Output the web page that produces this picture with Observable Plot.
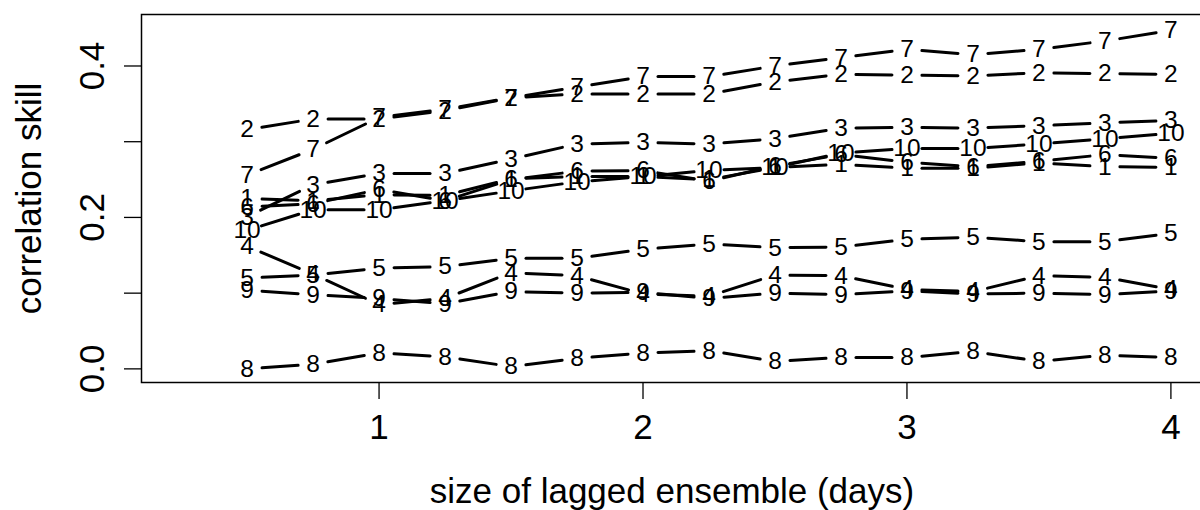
<!DOCTYPE html>
<html>
<head>
<meta charset="utf-8">
<script src="https://cdn.jsdelivr.net/npm/d3@7"></script>
<script src="https://cdn.jsdelivr.net/npm/@observablehq/plot@0.6"></script>
<style>
  html, body { margin: 0; padding: 0; background: #fff; overflow: hidden; }
  #wrap { width: 1200px; height: 510px; overflow: hidden; }
  #wrap svg { max-width: none !important; width: 1230px; height: 510px; display: block; }
  svg { font-family: "Liberation Sans", Arial, Helvetica, sans-serif; }
</style>
</head>
<body>
<div id="wrap"></div>
<script>
// ---- data ----
const xDays = [0.5, 0.75, 1, 1.25, 1.5, 1.75, 2, 2.25, 2.5, 2.75, 3, 3.25, 3.5, 3.75, 4];
const seriesNames = ["1", "2", "3", "4", "5", "6", "7", "8", "9", "10"];
const s1  = [0.225, 0.222, 0.230, 0.229, 0.251, 0.254, 0.254, 0.250, 0.266, 0.270, 0.265, 0.265, 0.272, 0.267, 0.266];
const s2  = [0.316, 0.330, 0.330, 0.341, 0.358, 0.363, 0.363, 0.363, 0.379, 0.389, 0.388, 0.387, 0.391, 0.390, 0.389];
const s3  = [0.201, 0.243, 0.258, 0.258, 0.277, 0.297, 0.299, 0.297, 0.304, 0.318, 0.319, 0.318, 0.321, 0.325, 0.328];
const s4  = [0.162, 0.125, 0.085, 0.093, 0.127, 0.123, 0.099, 0.096, 0.124, 0.123, 0.105, 0.102, 0.123, 0.121, 0.105];
const s5  = [0.120, 0.124, 0.133, 0.135, 0.146, 0.146, 0.158, 0.165, 0.160, 0.161, 0.171, 0.174, 0.168, 0.168, 0.179];
const s6  = [0.214, 0.218, 0.237, 0.222, 0.250, 0.261, 0.262, 0.248, 0.268, 0.283, 0.273, 0.267, 0.274, 0.283, 0.278];
const s7  = [0.256, 0.290, 0.332, 0.343, 0.358, 0.372, 0.386, 0.386, 0.400, 0.411, 0.422, 0.415, 0.422, 0.433, 0.447];
const s8  = [0.000, 0.006, 0.021, 0.016, 0.003, 0.014, 0.021, 0.024, 0.010, 0.015, 0.015, 0.023, 0.010, 0.018, 0.015];
const s9  = [0.104, 0.098, 0.093, 0.086, 0.102, 0.100, 0.101, 0.093, 0.100, 0.098, 0.103, 0.099, 0.100, 0.098, 0.103];
const s10 = [0.183, 0.210, 0.210, 0.222, 0.235, 0.247, 0.254, 0.262, 0.266, 0.285, 0.291, 0.291, 0.297, 0.304, 0.311];
const allSeries = [s1, s2, s3, s4, s5, s6, s7, s8, s9, s10];

const xTicks = [1, 2, 3, 4];
const yTicks = [0, 0.1, 0.2, 0.3, 0.4];
const yTickLabels = [0, 0.2, 0.4];
const xTitle = "size of lagged ensemble (days)";
const yTitle = "correlation skill";

// ---- tidy table ----
const points = [];
seriesNames.forEach((name, si) => {
  allSeries[si].forEach((v, i) => points.push({series: name, order: si, x: xDays[i], y: v}));
});

const W = 1230, H = 510;
const xOpts = {type: "linear", domain: [0.1, 4.15], range: [141, 1210]};
const yOpts = {type: "linear", domain: [-0.018, 0.468], range: [382, 14]};
const common = {
  width: W, height: H,
  marginLeft: 141, marginRight: W - 1210, marginTop: 14, marginBottom: H - 382,
  x: xOpts, y: yOpts
};

// obtain the library's scales
let sx, sy;
try {
  const probe = Plot.plot({...common, marks: [Plot.dot(points, {x: "x", y: "y", r: 0})]});
  sx = probe.scale("x"); sy = probe.scale("y");
  if (!sx.apply || !sx.invert) throw new Error("no apply");
} catch (e) {
  const dx = d3.scaleLinear(xOpts.domain, xOpts.range), dy = d3.scaleLinear(yOpts.domain, yOpts.range);
  sx = {apply: dx, invert: dx.invert}; sy = {apply: dy, invert: dy.invert};
}

// type="b" style segments: shortened around each label
const GAP = 15;
const segs = [];
seriesNames.forEach((name, si) => {
  const vals = allSeries[si];
  for (let i = 0; i < vals.length - 1; i++) {
    const px1 = sx.apply(xDays[i]), py1 = sy.apply(vals[i]);
    const px2 = sx.apply(xDays[i + 1]), py2 = sy.apply(vals[i + 1]);
    const L = Math.hypot(px2 - px1, py2 - py1);
    if (L <= 2 * GAP) continue;
    const ux = (px2 - px1) / L, uy = (py2 - py1) / L;
    segs.push({
      series: name,
      x1: sx.invert(px1 + ux * GAP), y1: sy.invert(py1 + uy * GAP),
      x2: sx.invert(px2 - ux * GAP), y2: sy.invert(py2 - uy * GAP)
    });
  }
});

const chart = Plot.plot({
  ...common,
  style: {fontFamily: '"Liberation Sans", Arial, Helvetica, sans-serif', background: "#fff", overflow: "visible", maxWidth: "none"},
  marks: [
    Plot.frame({stroke: "#000", strokeWidth: 1.5}),
    Plot.axisX({ticks: xTicks, tickSize: 17, tickPadding: 15, fontSize: 35, tickFormat: d3.format("d"),
                stroke: "#000", strokeWidth: 1.3, fill: "#000", label: null}),
    Plot.axisY({ticks: yTicks, tickSize: 17, tickFormat: () => "", stroke: "#000", strokeWidth: 1.3, label: null}),
    Plot.text(yTickLabels, {y: d => d, text: d => d3.format(".1f")(d), frameAnchor: "left", dx: -38,
                            rotate: -90, lineAnchor: "bottom", textAnchor: "middle", fontSize: 35, fill: "#000"}),
    Plot.text([yTitle], {text: d => d, frameAnchor: "left", dx: -101, rotate: -90, lineAnchor: "bottom",
                         textAnchor: "middle", fontSize: 35, fill: "#000"}),
    Plot.text([xTitle], {text: d => d, frameAnchor: "bottom", dx: -4, dy: 120, lineAnchor: "bottom",
                         textAnchor: "middle", fontSize: 35, fill: "#000"}),
    Plot.link(segs, {x1: "x1", y1: "y1", x2: "x2", y2: "y2", stroke: "#000", strokeWidth: 3, strokeLinecap: "round"}),
    Plot.text(points, {x: "x", y: "y", text: "series", fontSize: 24.5, fill: "#000",
                       textAnchor: "middle", lineAnchor: "middle"})
  ]
});
chart.style.maxWidth = "none";
document.getElementById("wrap").appendChild(chart);
</script>
</body>
</html>
